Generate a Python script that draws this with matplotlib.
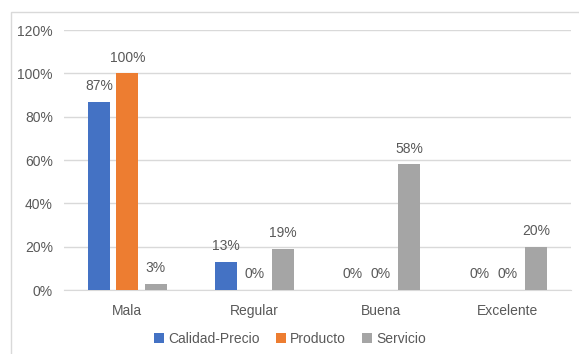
import numpy as np
import matplotlib.pyplot as plt
from matplotlib.patches import Rectangle

categories = ['Mala', 'Regular', 'Buena', 'Excelente']
calidad_precio = [87, 13, 0, 0]
producto = [100, 0, 0, 0]
servicio = [3, 19, 58, 20]
series = ['Calidad-Precio', 'Producto', 'Servicio']
colors = ['#4472C4', '#ED7D31', '#A5A5A5']

plt.rcParams['font.family'] = ['Liberation Sans Narrow', 'Liberation Sans', 'DejaVu Sans']
txt = '#595959'

fig = plt.figure(figsize=(5.79, 3.54), dpi=100)
ax = fig.add_axes([64 / 579, 1 - 290 / 354, 507 / 579, 260 / 354])

x = np.arange(len(categories))
w = 0.175
off = 0.225
for i, (vals, name, c) in enumerate(zip([calidad_precio, producto, servicio], series, colors)):
    pos = x + (i - 1) * off
    ax.bar(pos, vals, w, color=c, label=name, zorder=3)
    for p, v in zip(pos, vals):
        ax.text(p, v + 4, f'{v}%', ha='center', va='bottom', fontsize=10, color=txt)

ax.set_xlim(-0.5, 3.5)
ax.set_ylim(0, 120)
ax.set_yticks(range(0, 121, 20))
ax.set_yticklabels([f'{t}%' for t in range(0, 121, 20)])
ax.set_xticks(x)
ax.set_xticklabels(categories)
ax.grid(axis='y', color='#D9D9D9', linewidth=1, zorder=0)
for s in ['top', 'right', 'left']:
    ax.spines[s].set_visible(False)
ax.spines['bottom'].set_color('#D9D9D9')
ax.tick_params(length=0, labelsize=10, colors=txt, pad=8)
ax.tick_params(axis='x', pad=10)

leg = fig.legend(loc='center', bbox_to_anchor=(290 / 579, 1 - 339 / 354), ncol=3, frameon=False,
                 fontsize=10, handlelength=0.7, handleheight=0.7, handletextpad=0.3, columnspacing=1.2)
for t in leg.get_texts():
    t.set_color(txt)

# chart border
fig.patches.append(Rectangle((11 / 579, -0.05), 1.2, 1 - 12 / 354 + 0.05, transform=fig.transFigure,
                             fill=False, edgecolor='#D9D9D9', linewidth=1))

fig.savefig('out.png', dpi=100)
